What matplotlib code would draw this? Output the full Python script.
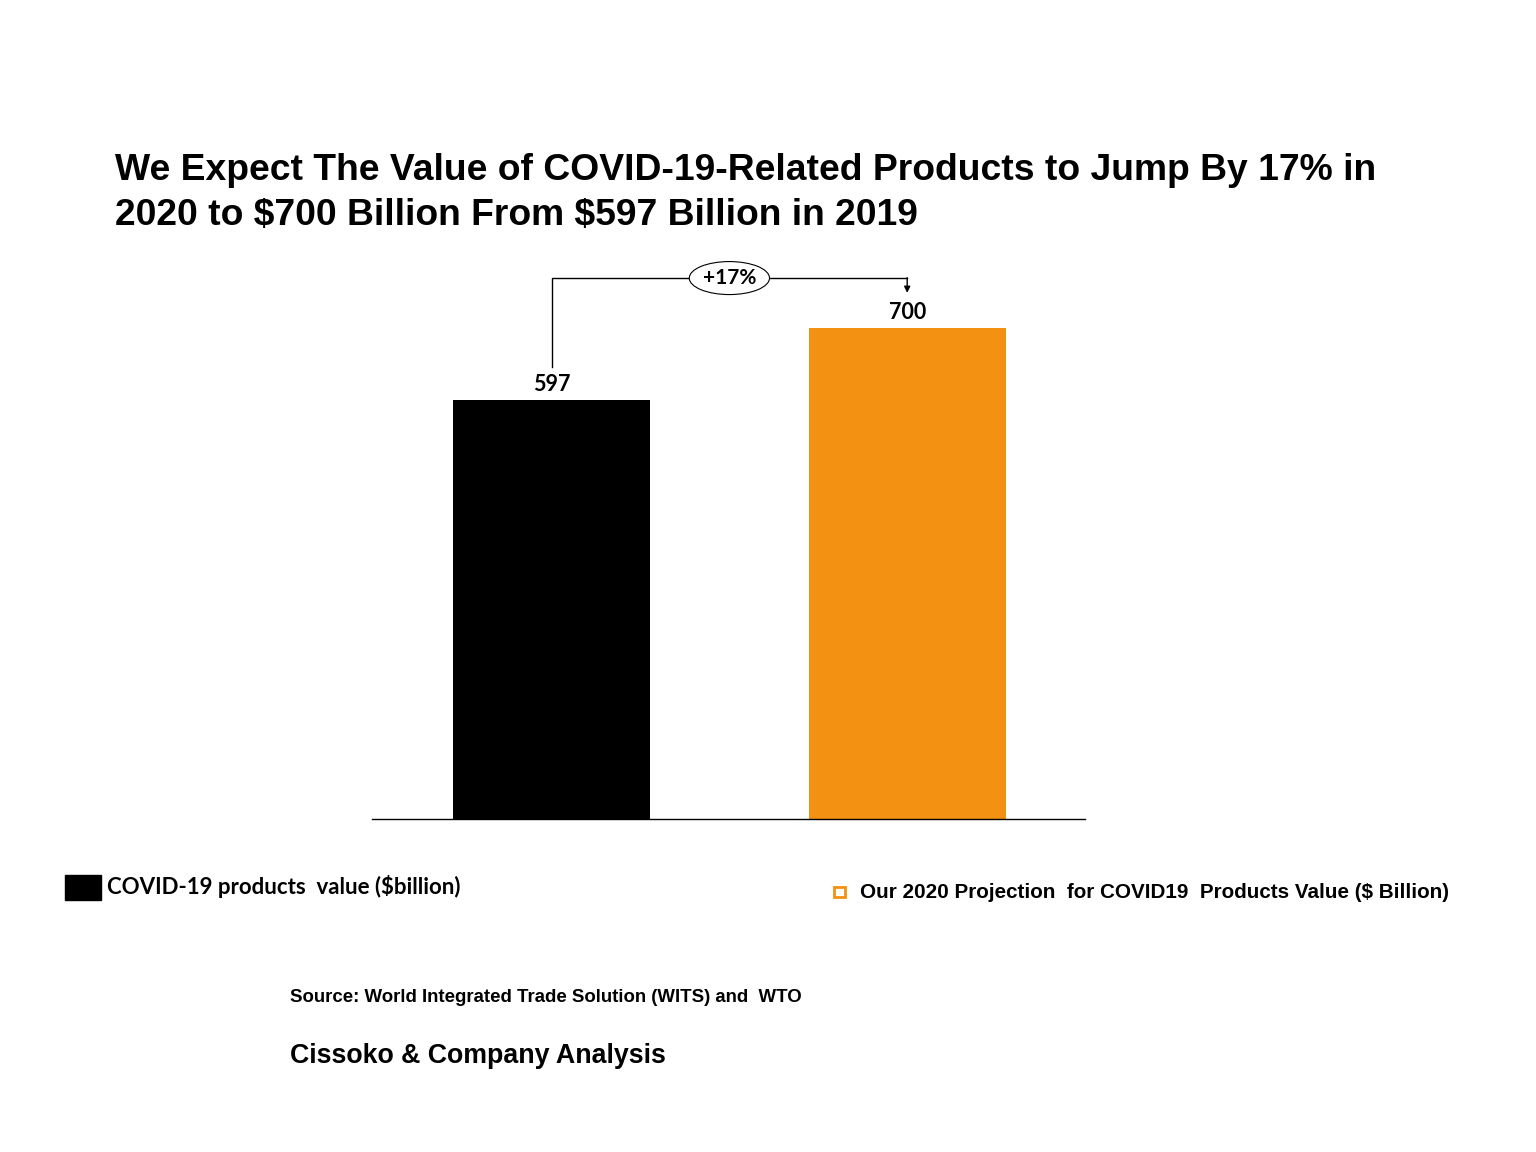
import matplotlib
matplotlib.use("Agg")
import matplotlib.pyplot as plt

# data
categories = ["2019", "2020"]
values = [597, 700]
bar_colors = ["#000000", "#F39112"]
growth_label = "+17%"
title = ("We Expect The Value of COVID-19-Related Products to Jump By 17% in\n"
         "2020 to \\$700 Billion From \\$597 Billion in 2019")
legend_actual = "COVID-19 products  value (\\$billion)"
legend_proj = "Our 2020 Projection  for COVID19  Products Value (\\$ Billion)"
source = "Source: World Integrated Trade Solution (WITS) and  WTO"
analysis = "Cissoko & Company Analysis"

W, H = 1536, 1152
fig = plt.figure(figsize=(W / 100, H / 100), dpi=100)


def fx(px):
    return px / W


def fy(py):
    return 1 - py / H


ax = fig.add_axes([fx(372), fy(819), fx(1085) - fx(372), fy(250) - fy(819)])
x = list(range(len(categories)))
ax.bar(x, values, width=0.554, color=bar_colors)
ax.set_xlim(-0.505, 1.50)
ax.set_ylim(0, 811)
for s in ["top", "left", "right"]:
    ax.spines[s].set_visible(False)
ax.spines["bottom"].set_linewidth(1.0)
ax.set_xticks([])
ax.set_yticks([])

for xi, v in zip(x, values):
    ax.text(xi, v + 22, f"{v}", ha="center", va="center", fontsize=15.5,
            fontweight="bold", family="Lato")

# growth bracket
top = max(values) + 71
ax.plot([x[0], x[0], x[1]], [values[0] + 47, top, top], color="black", lw=1)
ax.annotate("", xy=(x[1], values[1] + 50), xytext=(x[1], top + 0.5),
            arrowprops=dict(arrowstyle="-|>", color="black", lw=1,
                            mutation_scale=9, shrinkA=0, shrinkB=0))
ax.text((x[0] + x[1]) / 2, top, growth_label, ha="center", va="center",
        fontsize=15, fontweight="bold", family="Lato",
        bbox=dict(boxstyle="ellipse,pad=0.08", fc="white", ec="black", lw=0.8))

# title
fig.text(fx(115), fy(193), title, ha="left", va="center", fontsize=26.8,
         fontweight="bold", family="Liberation Sans", linespacing=1.4)

# legend
fig.patches.append(plt.Rectangle((fx(65), fy(900)), fx(101) - fx(65), fy(875) - fy(900),
                                 transform=fig.transFigure, color="black"))
fig.text(fx(107), fy(887), legend_actual, ha="left", va="center", fontsize=16,
         fontweight="bold", family="Lato")
fig.patches.append(plt.Rectangle((fx(834), fy(897)), fx(845) - fx(834), fy(887) - fy(897),
                                 transform=fig.transFigure, fc="white",
                                 ec=bar_colors[1], lw=2))
fig.text(fx(860), fy(892), legend_proj, ha="left", va="center", fontsize=14.9,
         fontweight="bold", family="Liberation Sans")

# footer
fig.text(fx(290), fy(998), source, ha="left", va="center", fontsize=13.4,
         fontweight="bold", family="Liberation Sans")
fig.text(fx(290), fy(1056), analysis, ha="left", va="center", fontsize=19.3,
         fontweight="bold", family="Liberation Sans")

fig.savefig("out.png", dpi=100, facecolor="white")
